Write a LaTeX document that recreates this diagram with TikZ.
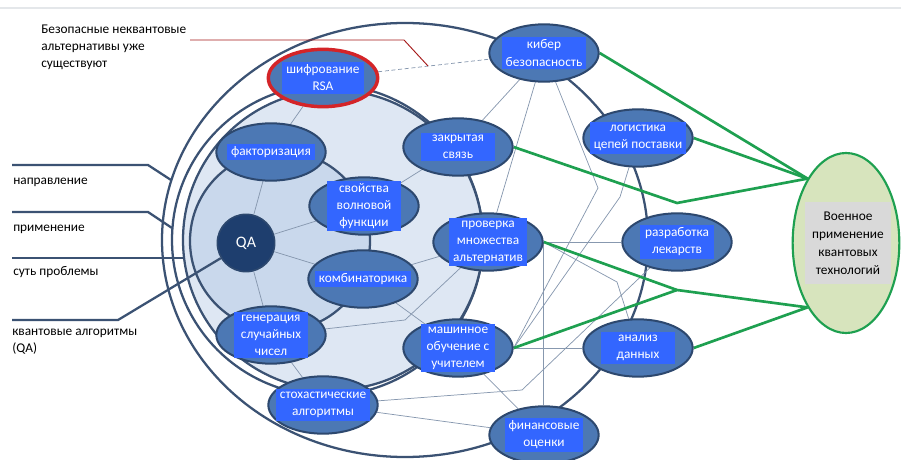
\documentclass[tikz,border=0pt]{standalone}
\usepackage{fontspec}
\setmainfont{Carlito}
\usetikzlibrary{shapes.geometric}

\definecolor{ringblue}{RGB}{59,82,115}
\definecolor{nodeblue}{RGB}{76,120,180}
\definecolor{nodeedge}{RGB}{45,72,110}
\definecolor{boxblue}{RGB}{51,102,255}
\definecolor{qanavy}{RGB}{30,62,110}
\definecolor{palefill}{RGB}{222,231,243}
\definecolor{innerfill}{RGB}{201,216,236}
\definecolor{linkgray}{RGB}{135,152,175}
\definecolor{milgreen}{RGB}{30,160,80}
\definecolor{milfill}{RGB}{215,228,189}
\definecolor{milbox}{RGB}{217,217,217}
\definecolor{rsared}{RGB}{212,36,40}
\definecolor{callred}{RGB}{165,25,25}
\definecolor{pageline}{RGB}{228,231,234}

\pgfdeclarelayer{rings}
\pgfdeclarelayer{links}
\pgfsetlayers{rings,links,main}

\tikzset{
  ring/.style={draw=ringblue, line width=1.7pt},
  bubble/.style={ellipse, draw=nodeedge, fill=nodeblue, line width=1.5pt, inner sep=0pt, minimum width=82pt, minimum height=43pt},
  tbox/.style={fill=boxblue, text=white, align=center, inner xsep=3pt, inner ysep=2pt, minimum width=55pt, font=\fontsize{10}{12.8}\selectfont},
  thin link/.style={draw=linkgray, line width=0.55pt},
  green link/.style={draw=milgreen, line width=2pt},
  lbl/.style={anchor=west, inner sep=0.75pt, align=left, font=\fontsize{10}{12.8}\selectfont}
}

\begin{document}
\begin{tikzpicture}[x=0.75pt,y=0.75pt,yscale=-1,xscale=1]
\useasboundingbox (0,0) rectangle (901,460);

%Straight Lines [page edge]
\draw [color=pageline, line width=1.5] (0,8.5) -- (901,8.5);

\begin{pgfonlayer}{rings}
%Shape: Ellipse [направление]
\draw [ring] (405,240) ellipse (243 and 217);
%Shape: Circle [применение]
\draw [ring] (327.5,240) circle (155.5);
%Shape: Circle [pale ring]
\draw [ring, fill=palefill] (333,240) circle (150);
%Shape: Circle [суть проблемы]
\draw [ring, fill=innerfill] (280,241) circle (90);
\end{pgfonlayer}

% Nodes: суть проблемы
\node [circle, draw=nodeedge, fill=qanavy, line width=1.2pt, minimum size=43pt, inner sep=0pt, text=white, font=\fontsize{12}{14}\selectfont] (qa) at (246,243) {QA};
\node [bubble] (fac) at (271,152) {};
\node [tbox] (facT) at (fac) {факторизация};
\node [bubble] (wave) at (364,206) {};
\node [tbox] (waveT) at (wave) {свойства\\волновой\\функции};
\node [bubble] (comb) at (363,279) {};
\node [tbox] (combT) at (comb) {комбинаторика};
\node [bubble] (gen) at (271,335) {};
\node [tbox] (genT) at (gen) {генерация\\случайных\\чисел};

% Nodes: применение
\node [bubble, draw=rsared, line width=2.6pt] (rsa) at (323,78) {};
\node [tbox] (rsaT) at (rsa) {шифрование\\RSA};
\node [bubble] (zak) at (458,147) {};
\node [tbox] (zakT) at (zak) {закрытая\\связь};
\node [bubble] (prov) at (488,242) {};
\node [tbox] (provT) at (prov) {проверка\\множества\\альтернатив};
\node [bubble] (ml) at (458,348) {};
\node [tbox] (mlT) at (ml) {машинное\\обучение с\\учителем};
\node [bubble] (sto) at (323,405) {};
\node [tbox] (stoT) at (sto) {стохастические\\алгоритмы};

% Nodes: направление
\node [bubble] (cyb) at (544,53) {};
\node [tbox] (cybT) at (cyb) {кибер\\безопасность};
\node [bubble] (log) at (638,138) {};
\node [tbox] (logT) at (log) {логистика\\цепей поставки};
\node [bubble] (drug) at (677,242) {};
\node [tbox] (drugT) at (drug) {разработка\\лекарств};
\node [bubble] (an) at (638,348) {};
\node [tbox] (anT) at (an) {анализ\\данных};
\node [bubble] (fin) at (544,435) {};
\node [tbox] (finT) at (fin) {финансовые\\оценки};

% Military
\node [ellipse, draw=milgreen, fill=milfill, line width=1.6pt, inner sep=0pt, minimum width=80pt, minimum height=135pt] (mil) at (846,243) {};
\node [fill=milbox, align=center, minimum width=65pt, minimum height=61pt, inner sep=1pt, font=\fontsize{10}{13.5}\selectfont] (milT) at (848,243) {Военное\\применение\\квантовых\\технологий};

% Text Node
\node [lbl, anchor=north west] (note) at (40,24) {Безопасные неквантовые\\альтернативы уже\\существуют};
\node [lbl] (dirL) at (12,182) {направление};
\node [lbl] (appL) at (12,229) {применение};
\node [lbl] (essL) at (12,272) {суть проблемы};
\node [lbl, anchor=north west] (qaL) at (11,328) {квантовые алгоритмы\\(QA)};

% bends
\coordinate (g1) at (405,320);
\coordinate (s1) at (522,390);
\coordinate (p1) at (617,282);
\coordinate (c1) at (598,188);
\coordinate (l1) at (620,197);
\coordinate (j1) at (677,203);
\coordinate (j2) at (677,290);
\coordinate (n1) at (190,40);
\coordinate (n2) at (404,40);
\coordinate (n3) at (428,66);
\coordinate (d1) at (12,165);
\coordinate (d2) at (148,165);
\coordinate (d3) at (171,180);
\coordinate (a1) at (12,212);
\coordinate (a2) at (148,212);
\coordinate (a3) at (172,228);
\coordinate (e1) at (12,258);
\coordinate (e2) at (184,258);
\coordinate (q1) at (12,320);
\coordinate (q2) at (118,320);

\begin{pgfonlayer}{links}
% thin links
\draw [thin link] (rsa) -- (fac);
\draw [thin link] (fac) -- (qa);
\draw [thin link] (qa) -- (wave);
\draw [thin link] (qa) -- (comb);
\draw [thin link] (qa) -- (gen);
\draw [thin link] (wave) -- (zak);
\draw [thin link] (zak) -- (cyb);
\draw [thin link] (gen) -- (g1) -- (prov);
\draw [thin link] (comb) -- (prov);
\draw [thin link] (comb) -- (ml);
\draw [thin link] (gen) -- (sto);
\draw [thin link] (sto) -- (s1) -- (drug);
\draw [thin link] (sto) -- (fin);
\draw [thin link] (ml) -- (fin);
\draw [thin link] (ml) -- (an);
\draw [thin link] (prov) -- (drug);
\draw [thin link] (prov.east) -- (prov.east |- fin.north);
\draw [thin link] (prov.east) -- (p1) -- (an);
\draw [thin link] (cyb) -- (prov);
\draw [thin link] (cyb) -- (c1) -- (ml.east);
\draw [thin link] (log) -- (l1) -- (ml.east);
\draw [thin link, densely dashed] (rsa) -- (cyb);
% callout
\draw [color=callred, line width=0.7] (n1) -- (n2) -- (n3);
% green links
\draw [green link] (cyb.east) -- (mil.north west);
\draw [green link] (log.east) -- (mil.north west);
\draw [green link] (zak.east) -- (j1) -- (mil.north west);
\draw [green link] (prov.east) -- (j2) -- (mil.south west);
\draw [green link] (ml.east) -- (j2);
\draw [green link] (an.east) -- (mil.south west);
% side labels
\draw [ring] (d1) -- (d2) -- (d3);
\draw [ring] (a1) -- (a2) -- (a3);
\draw [ring] (e1) -- (e2);
\draw [ring] (q1) -- (q2) -- (qa);
\end{pgfonlayer}

\end{tikzpicture}
\end{document}
